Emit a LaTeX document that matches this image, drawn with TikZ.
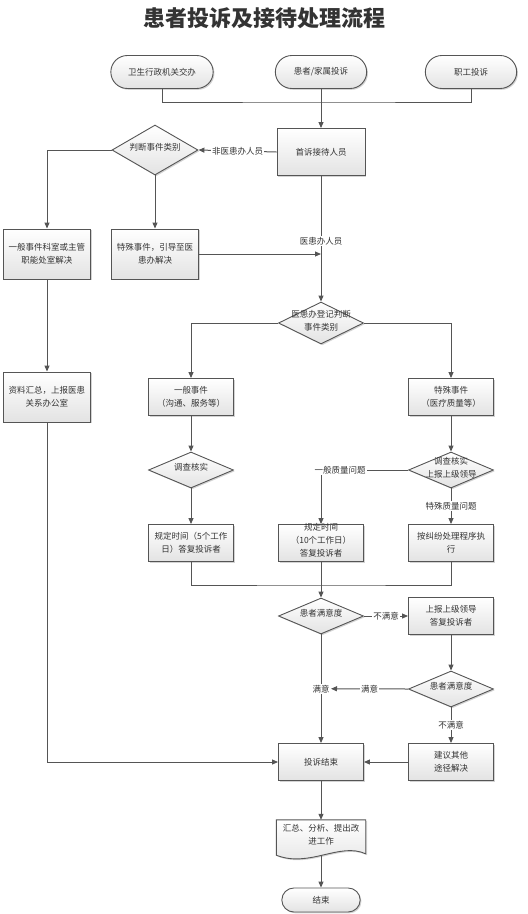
\documentclass[tikz,border=0pt]{standalone}
\usepackage{fontspec}
\setmainfont{Noto Sans CJK SC}
\newfontfamily\titlefont{Noto Sans CJK SC}
\usepackage{tikz}
\usetikzlibrary{shapes.geometric,shapes.misc,arrows.meta,shadows,calc,backgrounds}

\definecolor{linegray}{HTML}{555555}
\definecolor{inkgray}{HTML}{333333}

% text lines that must not enlarge the shape
\newcommand\flatlines[1]{\smash{\begin{tabular}{@{}c@{}}#1\end{tabular}}}

\begin{document}
\begin{tikzpicture}[x=1pt, y=-1pt,
  font=\fontsize{8.5pt}{13pt}\selectfont, text=inkgray,
  shade/.style = {draw=linegray, line width=0.9pt, top color=white, bottom color=gray!22,
                  drop shadow={shadow xshift=1.3pt, shadow yshift=-1.3pt, opacity=0.35, fill=gray}},
  box/.style  = {rectangle, shade, minimum width=85pt, minimum height=37pt,
                 align=center, inner sep=1pt},
  tall/.style = {minimum width=87pt, minimum height=50pt},
  term/.style = {rounded rectangle, shade, minimum width=98pt, minimum height=33pt},
  decision/.style = {diamond, shade, shape aspect=2.4, minimum width=85pt, minimum height=36pt,
                     inner sep=0pt, align=center},
  doc/.style  = {minimum width=89pt, minimum height=30pt, align=center, inner sep=1pt},
  line/.style = {draw=linegray, line width=1pt},
  arr/.style  = {line, -{Triangle[length=6pt,width=5pt]}},
  lbl/.style  = {fill=white, inner sep=1pt}
]
\useasboundingbox (0,0) rectangle (528,914);

% -- title --
\node (ttl) at (264,18) {\titlefont\bfseries\fontsize{22pt}{24pt}\selectfont 患者投诉及接待处理流程};

% -- sources --
\node[term, minimum width=109pt] (admin)   at (162,72) {卫生行政机关交办};
\node[term]                      (patient) at (321,72) {患者/家属投诉};
\node[term]                      (staff)   at (471,72) {职工投诉};
\coordinate (join) at (321,102);

% -- first contact --
\node[box, minimum width=88pt, minimum height=47pt] (first) at (321,152) {首诉接待人员};
\node[decision, minimum width=86pt, minimum height=50pt] (judge) at (155,150) {\flatlines{判断事件类别}};
\node[box, tall] (deptfix) at (47,254)  {一般事件科室或主管\\职能处室解决};
\node[box, tall] (guide)   at (155,254) {特殊事件，引导至医\\患办解决};
\node[box, tall] (collect) at (47,397)  {资料汇总，上报医患\\关系办公室};

% -- complaint office --
\node[decision, minimum height=42pt] (register) at (321,323) {\flatlines{医患办登记判断\\事件类别}};
\node[box] (general) at (191,397) {一般事件\\（沟通、服务等）};
\node[box] (special) at (451,397) {特殊事件\\（医疗质量等）};
\node[decision] (checkg) at (191,470) {\flatlines{调查核实}};
\node[decision] (checks) at (451,470) {\flatlines{调查核实\\上报上级领导}};
\node[box] (reply5)  at (191,543) {规定时间（5个工作\\日）答复投诉者};
\node[box] (reply10) at (321,543) {\flatlines{规定时间\\（10个工作日）\\答复投诉者}};
\node[box] (dispute) at (451,543) {按纠纷处理程序执\\行};
\coordinate (merge) at (321,585);

% -- satisfaction --
\node[decision] (satis1)   at (321,616) {\flatlines{患者满意度}};
\node[box]      (escalate) at (451,616) {上报上级领导\\答复投诉者};
\node[decision] (satis2)   at (451,689) {\flatlines{患者满意度}};
\node[box]      (other)    at (451,762) {建议其他\\途径解决};
\node[box]      (closed)   at (321,762) {投诉结束};

% -- summary (document shape) + end --
\node[doc] (summary) at (321,835) {汇总、分析、提出改\\进工作};
\begin{scope}[on background layer]
\path[shade] (summary.north west) -- (summary.north east) -- ++(0,34)
  .. controls +(-26,-12) and +(33,13) .. ($(summary.south west)+(0,5)$) -- cycle;
\end{scope}
\node[term, minimum width=85pt, minimum height=24pt] (finish) at (321,900) {结束};

% -- arrows: sources --
\draw[line] (admin.south) |- (join) -| (staff.south);
\draw[arr] (patient.south) -- (first.north);

% -- arrows: first contact --
\draw[arr] (first.west) -- node[lbl] {非医患办人员} (judge.east);
\draw[arr] (judge.west) -| (deptfix.north);
\draw[arr] (judge.south) -- (guide.north);
\draw[arr] (deptfix.south) -- (collect.north);
\draw[arr] (guide.east) -- (guide.east -| first.south);
\draw[arr] (first.south) -- node[lbl, pos=0.52] {医患办人员} (register.north);
\draw[arr] (collect.south) |- (closed.west);

% -- arrows: office --
\draw[arr] (register.west) -| (general.north);
\draw[arr] (register.east) -| (special.north);
\draw[arr] (general.south) -- (checkg.north);
\draw[arr] (special.south) -- (checks.north);
\draw[arr] (checkg.south) -- (reply5.north);
\draw[arr] (checks.west) -| node[lbl, pos=0.39] {一般质量问题} (reply10.north);
\draw[arr] (checks.south) -- node[lbl] {特殊质量问题} (dispute.north);
\draw[line] (reply5.south) |- (merge) -| (dispute.south);
\draw[arr] (reply10.south) -- (satis1.north);

% -- arrows: satisfaction --
\draw[arr] (satis1.east) -- node[lbl] {不满意} (escalate.west);
\draw[arr] (escalate.south) -- (satis2.north);
\draw[arr] (satis1.south) -- node[lbl] (okmark) {满意} (closed.north);
\draw[arr] (satis2.west) -- node[lbl] {满意} (okmark.east);
\draw[arr] (satis2.south) -- node[lbl] {不满意} (other.north);
\draw[arr] (other.west) -- (closed.east);
\draw[arr] (closed.south) -- (summary.north);
\draw[arr, shorten <=5pt] (summary.south) -- (finish.north);

\end{tikzpicture}
\end{document}
